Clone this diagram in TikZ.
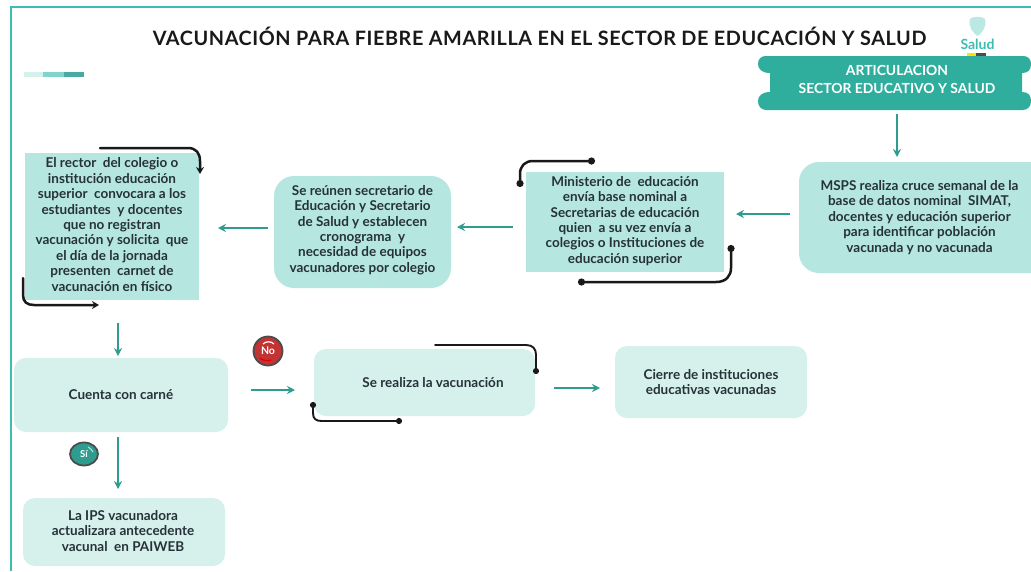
\documentclass[tikz,border=0pt]{standalone}
\usepackage{fontspec}
\setmainfont{Lato}
\newfontfamily\titlefont[LetterSpace=3]{Lato}
\usetikzlibrary{arrows.meta,shapes.geometric}
\definecolor{frameC}{HTML}{3DBDB0}
\definecolor{headC}{HTML}{2FAE9E}
\definecolor{boxA}{HTML}{B5E6E0}
\definecolor{boxB}{HTML}{D6F0EC}
\definecolor{arrC}{HTML}{2E9D90}
\definecolor{txtC}{HTML}{263238}
\tikzset{
  x=1pt,y=-1pt,
  txt/.style={font=\bfseries\fontsize{13.5}{15.4}\selectfont,text=txtC,align=center,inner sep=0pt},
  sqbox/.style={fill=boxA,inner sep=0pt},
  rndA/.style={fill=boxA,rounded corners=20pt},
  rndB/.style={fill=boxB,rounded corners=12pt},
  arr/.style={draw=arrC,line width=2pt,-{Stealth[length=8pt,width=8pt]}},
  deco/.style={draw=black!90,line width=2.5pt,line cap=round},
  decothin/.style={draw=black!90,line width=1.9pt,line cap=round},
  decoarr/.style={deco,-{Stealth[length=7pt,width=8pt]}},
  decodot/.style={deco,{Circle[length=7pt]}-{Circle[length=7pt]}},
  decodotc/.style={decothin,{Circle[length=6pt]}-{Circle[length=6pt]}},
  decodotb/.style={decothin,-{Circle[length=6pt]}},
  badge/.style={circle,minimum size=29pt,inner sep=0pt,line width=1.8pt,text=white,font=\bfseries\fontsize{10.5}{10.5}\selectfont}
}
\begin{document}
\begin{tikzpicture}
\useasboundingbox (0,0) rectangle (1031,571);
\fill[white] (0,0) rectangle (1031,571);
% frame
\draw[frameC,line width=2pt] (1031,7) -- (10.5,7) -- (10.5,571);
% progress bar
\fill[boxB] (24,72) rectangle (43,77);
\fill[frameC!65] (43,72) rectangle (64,77);
\fill[frameC!85!black!90] (64,72) rectangle (84,77);
% title
\node[inner sep=0pt,text=black!90] (title) at (539.5,36) {\titlefont\bfseries\fontsize{19.8}{20}\selectfont VACUNACIÓN PARA FIEBRE AMARILLA EN EL SECTOR DE EDUCACIÓN Y SALUD};
% logo
\path[fill=frameC!35] (970,19) .. controls (973,16) and (982,16) .. (985,19) .. controls (987,27) and (982,33) .. (977.5,36) .. controls (973,33) and (968,27) .. (970,19) -- cycle;
\node[inner sep=0pt,text=frameC,font=\bfseries\fontsize{14}{14}\selectfont] (logo) at (977.5,44) {Salud};
\fill[yellow!85!orange] (967,53) rectangle (976,56);
\fill[black!70] (976,53) rectangle (986,56);
% header
\path[fill=headC] (766,56) -- (1023,56) .. controls (1028,56) and (1031,59) .. (1031,64) .. controls (1031,70) and (1028,73) .. (1022,73)
  -- (1022,92) .. controls (1028,92) and (1031,95) .. (1031,101) .. controls (1031,106) and (1028,110) .. (1023,110) -- (766,110)
  .. controls (761,110) and (758,106) .. (758,101) .. controls (758,96) and (762,92) .. (770,92) -- (770,73)
  .. controls (762,73) and (758,69) .. (758,64) .. controls (758,59) and (761,56) .. (766,56) -- cycle;
\node[txt,text=white,font=\bfseries\fontsize{13.9}{18.5}\selectfont] (head) at (897,79.5) {ARTICULACION\\SECTOR EDUCATIVO Y SALUD};
% boxes
\path[sqbox] (25,153) rectangle (199,300);
\node[txt] (rector) at (112,224.5) {El rector\ \ del colegio o\\institución educación\\superior\ \ convocara a los\\estudiantes\ \ y docentes\\que no registran\\vacunación y solicita\ \ que\\el día de la jornada\\presenten\ \ carnet de\\vacunación en físico};
\path[rndA] (274,176) rectangle (451,288);
\node[txt] (reunen) at (362.5,230) {Se reúnen secretario de\\Educación y Secretario\\de Salud y establecen\\cronograma\ \ y\\necesidad de equipos\\vacunadores por colegio};
\path[sqbox] (526,172) rectangle (724,272);
\node[txt] (minis) at (625,221) {Ministerio de\ \ educación\\envía base nominal a\\Secretarias de educación\\quien\ \ a su vez envía a\\colegios o Instituciones de\\educación superior};
\path[rndA] (799,162) rectangle (1051,273);
\node[txt] (msps) at (919.5,217.5) {MSPS realiza cruce semanal de la\\base de datos nominal\ \ SIMAT,\\docentes y educación superior\\para identificar población\\vacunada y no vacunada};
\path[rndB] (14,358) rectangle (228,432);
\node[txt] (cuenta) at (121,395) {Cuenta con carné};
\path[rndB] (314,349) rectangle (535,416);
\node[txt] (vacuna) at (433,383) {Se realiza la vacunación};
\path[rndB] (615,346) rectangle (807,418);
\node[txt] (cierre) at (711,382) {Cierre de instituciones\\educativas vacunadas};
\path[rndB] (23,498) rectangle (225,566);
\node[txt] (ips) at (123,531) {La IPS vacunadora\\actualizara antecedente\\vacunal\ \ en PAIWEB};
% arrows
\coordinate (a1) at (897,114); \coordinate (a2) at (897,157);
\draw[arr] (a1) -- (a2);
\coordinate (b1) at (790,214); \coordinate (b2) at (736,214);
\draw[arr] (b1) -- (b2);
\coordinate (c1) at (513,227); \coordinate (c2) at (457,227);
\draw[arr] (c1) -- (c2);
\coordinate (d1) at (268,228); \coordinate (d2) at (218,228);
\draw[arr] (d1) -- (d2);
\coordinate (e1) at (118,323); \coordinate (e2) at (118,356);
\draw[arr] (e1) -- (e2);
\coordinate (f1) at (118,437); \coordinate (f2) at (118,489);
\draw[arr] (f1) -- (f2);
\coordinate (g1) at (251,390); \coordinate (g2) at (295,390);
\draw[arr] (g1) -- (g2);
\coordinate (h1) at (554,388); \coordinate (h2) at (600,388);
\draw[arr] (h1) -- (h2);
% decorative brackets
\draw[decoarr] (100,148) -- (188,148) .. controls (196,148) and (200,153) .. (200,161) -- (200,174);
\draw[decoarr] (23,278) -- (23,295) .. controls (23,302) and (27,305) .. (34,305) -- (99,305);
\draw[decodot] (595,161) -- (533,161) .. controls (525,161) and (520,166) .. (520,174) -- (520,187);
\draw[decodot] (578,282) -- (716,282) .. controls (726,282) and (731,276) .. (731,268) -- (731,245);
\draw[decodotb] (435,345) -- (526,345) .. controls (533,345) and (536,349) .. (536,355) -- (536,374);
\draw[decodotc] (313,402) -- (313,413) .. controls (313,419) and (316,421) .. (322,421) -- (402,421);
% badges
\node[badge,fill=red!70!black!80,draw=black!70] (no) at (268,351) {No};
\draw[white,line width=1.2pt] (263,344) .. controls (266,341) and (271,341) .. (274,344);
\draw[red!90!black,line width=1.4pt] (260,358) .. controls (263,361) and (268,361) .. (271,360);
\node[ellipse,minimum width=28pt,minimum height=23pt,inner sep=0pt,line width=1.8pt,fill=arrC,draw=black!70,text=white,font=\bfseries\fontsize{9.5}{9.5}\selectfont] (si) at (84,454) {Sí};
\draw[white!70!arrC,line width=1pt] (88,447) .. controls (90,448) and (92,450) .. (93,452);
\end{tikzpicture}
\end{document}
